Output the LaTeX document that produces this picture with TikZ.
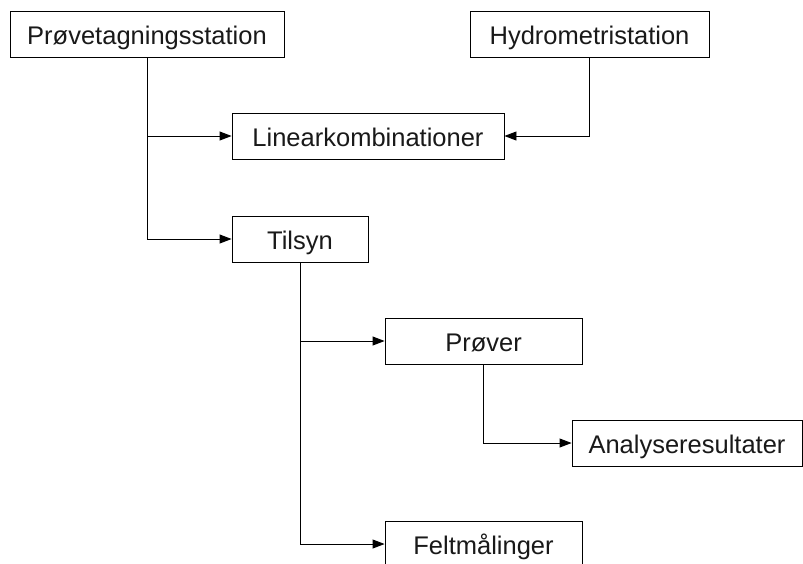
\documentclass[tikz,border=0pt]{standalone}
\usepackage{fontspec}
\setmainfont{Liberation Sans}
\usetikzlibrary{arrows.meta}
\tikzset{
  box/.style={draw=black, line width=0.9pt, rectangle, inner sep=0pt, minimum height=46pt,
    text height=21pt, text depth=0pt,
    font=\fontsize{25.5}{30}\selectfont, text=black!90},
  arr/.style={draw=black, line width=0.9pt, -{Triangle[length=12pt,width=9pt]}},
}
\begin{document}
\begin{tikzpicture}[x=1pt,y=-1pt]
\useasboundingbox (0,0) rectangle (803,563);
\clip (0,0) rectangle (803,563);
\fill[white] (0,0) rectangle (803,563);
\node[box, minimum width=274pt] (ps) at (147,34) {Prøvetagningsstation};
\node[box, minimum width=239pt] (hy) at (589.5,34) {Hydrometristation};
\node[box, minimum width=272pt] (lk) at (368,136) {Linearkombinationer};
\node[box, minimum width=136pt] (ti) at (300,239) {Tilsyn};
\node[box, minimum width=197pt] (pr) at (483.5,341) {Prøver};
\node[box, minimum width=230pt] (an) at (687,443) {Analyseresultater};
\node[box, minimum width=197pt] (fe) at (483.5,544) {Feltmålinger};
\draw[arr] (ps.south) |- (ti.west);
\draw[arr] (ps.south |- lk.west) -- (lk.west);
\draw[arr] (hy.south) |- (lk.east);
\draw[arr] (ti.south) |- (pr.west);
\draw[arr] (ti.south) |- (fe.west);
\draw[arr] (pr.south) |- (an.west);
\end{tikzpicture}
\end{document}
